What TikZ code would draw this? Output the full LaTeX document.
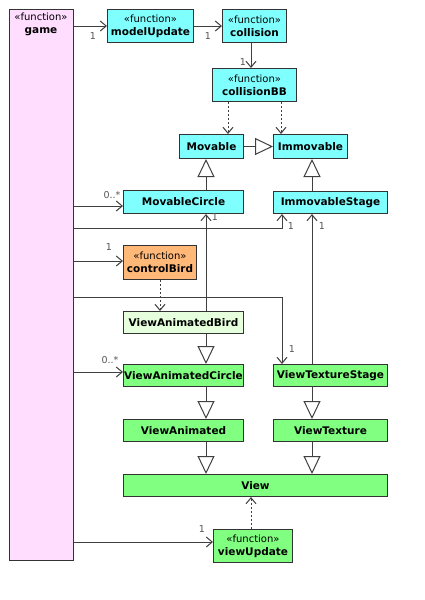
\documentclass[tikz,border=0pt]{standalone}
\usepackage{fontspec}
\setmainfont{DejaVu Sans}
\usetikzlibrary{arrows.meta}
\definecolor{cy}{HTML}{80FFFF}
\definecolor{gr}{HTML}{80FF80}
\definecolor{lgr}{HTML}{E6FFDC}
\definecolor{org}{HTML}{FFB878}
\definecolor{pnk}{HTML}{FFDDFF}
\definecolor{bord}{HTML}{333333}
\definecolor{ln}{HTML}{404040}
\definecolor{mt}{HTML}{555555}
\tikzset{
  cls/.style={draw=bord, line width=1pt, inner sep=0pt, anchor=north west, align=center,
    font=\fontsize{10.5}{13}\selectfont\bfseries},
  fn/.style={cls, font=\fontsize{10.5}{13}\selectfont},
  mult/.style={text=mt, inner sep=0pt, font=\fontsize{9.5}{10}\selectfont},
  assoc/.style={draw=ln, line width=1pt, -{Straight Barb[length=6pt,width=10pt,line width=1pt]}},
  dep/.style={assoc, dash pattern=on 2pt off 2pt},
  gen/.style={draw=ln, line width=1pt, -{Triangle[length=18pt,width=17pt,fill=white,line width=1pt]}},
  plain/.style={draw=ln, line width=1pt}
}
\newcommand{\st}{{\mdseries\fontsize{10}{12}\selectfont «function»}\\}
\begin{document}
\begin{tikzpicture}[x=1pt,y=-1pt]
\useasboundingbox[fill=white] (0,0) rectangle (425,600);
% nodes
\node[cls, fill=pnk, minimum width=64pt, minimum height=551pt] (game) at (9,9) {};
\node[anchor=north, inner sep=0pt, align=center, font=\fontsize{10.5}{13}\selectfont] (gamet) at (41,13) {\st\textbf{game}};
\node[fn, fill=cy, minimum width=86pt, minimum height=33pt] (mu) at (107,9) {\st\textbf{modelUpdate}};
\node[fn, fill=cy, minimum width=64pt, minimum height=33pt] (col) at (222,9) {\st\textbf{collision}};
\node[fn, fill=cy, minimum width=84pt, minimum height=33pt] (cbb) at (212,68) {\st\textbf{collisionBB}};
\node[cls, fill=cy, minimum width=64pt, minimum height=24pt] (mv) at (179,134) {Movable};
\node[cls, fill=cy, minimum width=74pt, minimum height=24pt] (im) at (273,134) {Immovable};
\node[cls, fill=cy, minimum width=120pt, minimum height=23pt] (mc) at (123,190) {MovableCircle};
\node[cls, fill=cy, minimum width=114pt, minimum height=22pt] (ims) at (273,191) {ImmovableStage};
\node[fn, fill=org, minimum width=73pt, minimum height=34pt] (cb) at (123,245) {\st\textbf{controlBird}};
\node[cls, fill=lgr, minimum width=120pt, minimum height=22pt] (vab) at (123,311) {ViewAnimatedBird};
\node[cls, fill=gr, minimum width=120pt, minimum height=22pt] (vac) at (123,364) {ViewAnimatedCircle};
\node[cls, fill=gr, minimum width=114pt, minimum height=22pt] (vts) at (273,364) {ViewTextureStage};
\node[cls, fill=gr, minimum width=120pt, minimum height=22pt] (va) at (123,419) {ViewAnimated};
\node[cls, fill=gr, minimum width=114pt, minimum height=22pt] (vt) at (273,419) {ViewTexture};
\node[cls, fill=gr, minimum width=264pt, minimum height=22pt] (v) at (123,474) {View};
\node[fn, fill=gr, minimum width=79pt, minimum height=33pt] (vu) at (213,529) {\st\textbf{viewUpdate}};
% helper coordinates
\coordinate (c1) at (282,228);
\coordinate (c2) at (282,297);
% associations
\draw[assoc] (game.east |- mu.west) -- (mu.west);
\draw[assoc] (mu.east) -- (col.west);
\draw[assoc] (col.south -| 251,0) -- (cbb.north -| 251,0);
\draw[dep] (cbb.south -| 228,0) -- (mv.north -| 228,0);
\draw[dep] (cbb.south -| 281,0) -- (im.north -| 281,0);
\draw[gen] (mv.east) -- (im.west);
\draw[gen] (mc.north -| 206,0) -- (mv.south -| 206,0);
\draw[gen] (ims.north -| 312,0) -- (im.south -| 312,0);
\draw[assoc] (game.east |- 0,206) -- (mc.west |- 0,206);
\draw[assoc] (game.east |- c1) -- (c1) -- (ims.south -| c1);
\draw[assoc] (vab.north -| 206,0) -- (mc.south -| 206,0);
\draw[assoc] (vts.north -| 312,0) -- (ims.south -| 312,0);
\draw[assoc] (game.east |- 0,261) -- (cb.west |- 0,261);
\draw[dep] (cb.south -| 160,0) -- (vab.north -| 160,0);
\draw[assoc] (game.east |- c2) -- (c2) -- (vts.north -| c2);
\draw[gen] (vab.south -| 206,0) -- (vac.north -| 206,0);
\draw[assoc] (game.east |- 0,372) -- (vac.west |- 0,372);
\draw[gen] (vac.south -| 206,0) -- (va.north -| 206,0);
\draw[gen] (vts.south -| 312,0) -- (vt.north -| 312,0);
\draw[gen] (va.south -| 206,0) -- (v.north -| 206,0);
\draw[gen] (vt.south -| 312,0) -- (v.north -| 312,0);
\draw[dep] (vu.north -| 251,0) -- (v.south -| 251,0);
\draw[assoc] (game.east |- 0,542) -- (vu.west |- 0,542);
% multiplicities
\node[mult] (m1) at (93,36) {1};
\node[mult] (m2) at (208,36) {1};
\node[mult] (m3) at (243,62) {1};
\node[mult] (m4) at (112,195) {0..*};
\node[mult] (m5) at (215,217) {1};
\node[mult] (m6) at (291,226) {1};
\node[mult] (m7) at (322,226) {1};
\node[mult] (m8) at (109,247) {1};
\node[mult] (m9) at (292,349) {1};
\node[mult] (m10) at (110,360) {0..*};
\node[mult] (m11) at (202,529) {1};
\end{tikzpicture}
\end{document}
